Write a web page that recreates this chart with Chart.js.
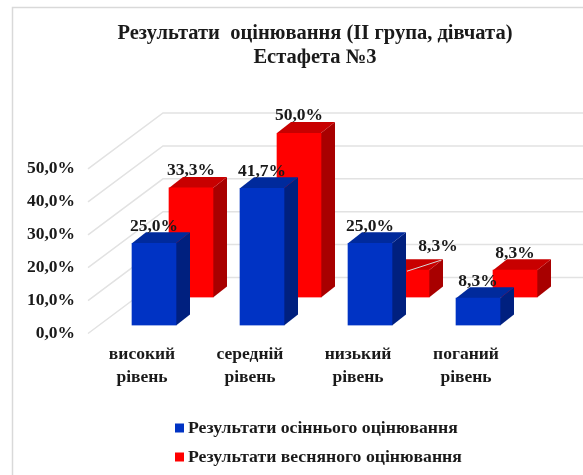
<!DOCTYPE html>
<html>
<head>
<meta charset="utf-8">
<style>
  html, body { margin: 0; padding: 0; background: #fff; overflow: hidden; }
  #wrap { width: 583px; height: 475px; overflow: hidden; position: relative; }
  canvas { position: absolute; left: 0; top: 0; }
</style>
<script src="https://cdn.jsdelivr.net/npm/chart.js@4"></script>
</head>
<body>
<div id="wrap"><canvas id="chart" width="630" height="475"></canvas></div>
<script>
const categories = [['високий', 'рівень'], ['середній', 'рівень'], ['низький', 'рівень'], ['поганий', 'рівень']];
const autumnValues = [25.0, 41.7, 25.0, 8.3];
const springValues = [33.3, 50.0, 8.3, 8.3];
const titleLines = ['Результати  оцінювання (II група, дівчата)', 'Естафета №3'];
const seriesNames = ['Результати осіннього оцінювання', 'Результати весняного оцінювання'];
const seriesColors = ['#0033c4', '#ff0000'];

const FONT = '"Liberation Serif", serif';
const TEXT_COLOR = '#1a1a1a';
const percent = v => v.toFixed(1).replace('.', ',') + '%';

// 3D look: each series sits further back on the floor of the chart
const WALL = { dx: 75, dy: -56 };
const SLOT = [{ dx: 12, dy: -8 }, { dx: 49, dy: -36 }];
const BAR_DEPTH = { dx: 14, dy: -11 };
const FACES = [
  { side: '#00207f', top: '#002a9c' },
  { side: '#a80000', top: '#c80000' }
];

const depthBars = {
  id: 'depthBars',
  beforeDraw(chart) {
    // frame of the original picture, only its top and left edges are in view
    const { ctx } = chart;
    ctx.save();
    ctx.strokeStyle = '#d9d9d9';
    ctx.lineWidth = 1.5;
    ctx.beginPath();
    ctx.moveTo(12.5, chart.height);
    ctx.lineTo(12.5, 7.5);
    ctx.lineTo(chart.width, 7.5);
    ctx.stroke();
    ctx.restore();
  },
  beforeDatasetsDraw(chart) {
    // gridlines run from the front edge to the back wall, then across it
    const { ctx, scales: { y }, chartArea } = chart;
    ctx.save();
    ctx.strokeStyle = '#e2e2e2';
    ctx.lineWidth = 1.5;
    y.ticks.forEach(t => {
      const py = y.getPixelForValue(t.value);
      ctx.beginPath();
      ctx.moveTo(chartArea.left, py);
      ctx.lineTo(chartArea.left + WALL.dx, py + WALL.dy);
      ctx.lineTo(chart.width, py + WALL.dy);
      ctx.stroke();
    });
    ctx.restore();
  },
  beforeDatasetDraw(chart, args) {
    const { ctx } = chart;
    const slot = SLOT[args.index];
    const faces = FACES[args.index];
    ctx.save();
    ctx.translate(slot.dx, slot.dy);
    args.meta.data.forEach(bar => {
      const { x, y, base, width } = bar.getProps(['x', 'y', 'base', 'width'], true);
      const l = x - width / 2, r = x + width / 2;
      ctx.fillStyle = faces.side;
      ctx.beginPath();
      ctx.moveTo(r, y);
      ctx.lineTo(r + BAR_DEPTH.dx, y + BAR_DEPTH.dy);
      ctx.lineTo(r + BAR_DEPTH.dx, base + BAR_DEPTH.dy);
      ctx.lineTo(r, base);
      ctx.closePath();
      ctx.fill();
      ctx.fillStyle = faces.top;
      ctx.beginPath();
      ctx.moveTo(l, y);
      ctx.lineTo(l + BAR_DEPTH.dx, y + BAR_DEPTH.dy);
      ctx.lineTo(r + BAR_DEPTH.dx, y + BAR_DEPTH.dy);
      ctx.lineTo(r, y);
      ctx.closePath();
      ctx.fill();
    });
  },
  afterDatasetDraw(chart) {
    chart.ctx.restore();
  },
  afterDatasetsDraw(chart) {
    const { ctx } = chart;
    ctx.save();
    ctx.font = 'bold 17.5px ' + FONT;
    ctx.textAlign = 'center';
    ctx.textBaseline = 'middle';
    ctx.fillStyle = TEXT_COLOR;
    chart.data.datasets.forEach((ds, d) => {
      const slot = SLOT[d];
      chart.getDatasetMeta(d).data.forEach((bar, i) => {
        // the spring label of the low level is pulled off its bar with a leader line
        const pulled = d === 1 && i === 2;
        const x = bar.x + slot.dx + (pulled ? 31 : 0);
        const y = bar.y + slot.dy - (pulled ? 24 : 17);
        if (pulled) {
          ctx.save();
          ctx.strokeStyle = '#d8d8d8';
          ctx.lineWidth = 1;
          ctx.beginPath();
          ctx.moveTo(bar.x + slot.dx, bar.y + slot.dy + 1);
          ctx.lineTo(x + 3, y + 14);
          ctx.stroke();
          ctx.restore();
        }
        ctx.fillText(percent(ds.data[i]), x, y);
      });
    });
    ctx.restore();
  },
  afterDraw(chart) {
    // legend is stacked with a tighter swatch gap than the built-in one allows
    const { ctx } = chart;
    const rows = [428, 457];
    ctx.save();
    ctx.font = 'bold 17.7px ' + FONT;
    ctx.textBaseline = 'middle';
    seriesNames.forEach((name, i) => {
      ctx.fillStyle = seriesColors[i];
      ctx.fillRect(175, rows[i] - 4.5, 9, 9);
      ctx.fillStyle = TEXT_COLOR;
      ctx.fillText(name, 188, rows[i]);
    });
    ctx.restore();
  }
};

new Chart(document.getElementById('chart'), {
  type: 'bar',
  data: {
    labels: categories,
    datasets: [
      { label: seriesNames[0], data: autumnValues, backgroundColor: seriesColors[0] },
      { label: seriesNames[1], data: springValues, backgroundColor: seriesColors[1] }
    ]
  },
  options: {
    responsive: false,
    animation: false,
    devicePixelRatio: 1,
    layout: { padding: { left: 0, right: 0, top: 22, bottom: 84 } },
    datasets: { bar: { grouped: false, barThickness: 44 } },
    scales: {
      x: {
        grid: { display: false },
        border: { display: false },
        ticks: {
          color: TEXT_COLOR,
          padding: 2,
          maxRotation: 0,
          autoSkip: false,
          font: { family: FONT, size: 17.5, weight: 'bold', lineHeight: 1.3 }
        }
      },
      y: {
        min: 0,
        max: 50,
        afterFit(scale) { scale.width = 88; },
        grid: { display: false },
        border: { display: false },
        ticks: {
          stepSize: 10,
          color: TEXT_COLOR,
          padding: 5,
          callback: v => percent(v),
          font: { family: FONT, size: 17.5, weight: 'bold' }
        }
      },
      // empty axis that keeps the title centred on the whole (cropped) picture
      rightGap: {
        position: 'right',
        afterFit(scale) { scale.width = 110; },
        grid: { display: false },
        border: { display: false },
        ticks: { display: false }
      }
    },
    plugins: {
      tooltip: { enabled: false },
      legend: { display: false },
      title: {
        display: true,
        text: titleLines,
        color: TEXT_COLOR,
        padding: { top: 0, bottom: 99 },
        font: { family: FONT, size: 20.5, weight: 'bold', lineHeight: 1.17 }
      }
    }
  },
  plugins: [depthBars]
});
</script>
</body>
</html>
